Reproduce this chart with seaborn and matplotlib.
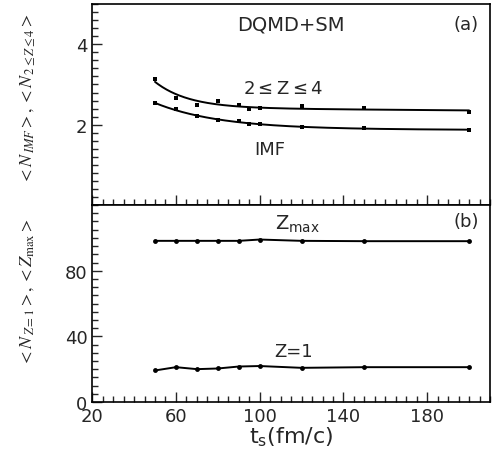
import numpy as np
import pandas as pd
import matplotlib
matplotlib.use("Agg")
import matplotlib.pyplot as plt
from matplotlib.ticker import MultipleLocator, FixedLocator
import seaborn as sns

# ---- data ----
t_a = [50, 60, 70, 80, 90, 95, 100, 120, 150, 200]
n_z24 = [3.13, 2.66, 2.50, 2.59, 2.50, 2.39, 2.41, 2.46, 2.41, 2.31]
n_imf = [2.53, 2.39, 2.21, 2.11, 2.10, 2.02, 2.01, 1.93, 1.92, 1.87]

t_b = [50, 60, 70, 80, 90, 100, 120, 150, 200]
z_max = [98.2, 98.2, 98.2, 98.2, 98.2, 99.0, 98.2, 98.0, 98.0]
n_z1 = [19.2, 21.2, 20.0, 20.4, 21.6, 21.9, 20.8, 21.2, 21.2]

x_ticks = [20, 60, 100, 140, 180]


def smooth_fit(x, y, tau_min=4):
    x = np.asarray(x, float)
    y = np.asarray(y, float)
    best = None
    for tau in np.linspace(tau_min, 120, 300):
        A = np.column_stack([np.ones_like(x), x, np.exp(-(x - x.min()) / tau)])
        coef, *_ = np.linalg.lstsq(A, y, rcond=None)
        r = np.sum((A @ coef - y) ** 2)
        if best is None or r < best[0]:
            best = (r, tau, coef)
    _, tau, coef = best
    xf = np.linspace(x.min(), x.max(), 300)
    yf = coef[0] + coef[1] * xf + coef[2] * np.exp(-(xf - x.min()) / tau)
    return xf, yf


sns.set_style("ticks")
plt.rcParams["font.family"] = ["DejaVu Sans"]

fig = plt.figure(figsize=(4.93, 4.60), dpi=100)
ax1 = fig.add_axes([0.187, 0.552, 0.807, 0.437])
ax2 = fig.add_axes([0.187, 0.124, 0.807, 0.428])

# top panel
df_a = pd.DataFrame({"t": t_a, "z24": n_z24, "imf": n_imf})
for col in ["z24", "imf"]:
    sns.scatterplot(data=df_a, x="t", y=col, ax=ax1, color="black", marker="s",
                    s=9, linewidth=0, zorder=3)
    xf, yf = smooth_fit(df_a["t"], df_a[col], tau_min=16)
    sns.lineplot(x=xf, y=yf, ax=ax1, color="black", linewidth=1.4, zorder=2)

# bottom panel
df_b = pd.DataFrame({"t": t_b, "zmax": z_max, "z1": n_z1})
for col in ["zmax", "z1"]:
    sns.lineplot(data=df_b, x="t", y=col, ax=ax2, color="black", linewidth=1.4,
                 marker="o", markersize=3.5, markeredgewidth=0, zorder=3)

for ax in (ax1, ax2):
    ax.set_xlim(20, 210)
    ax.xaxis.set_major_locator(FixedLocator(x_ticks))
    ax.xaxis.set_minor_locator(MultipleLocator(5))
    ax.tick_params(which="both", direction="in", top=False, right=False, width=1.0)
    ax.tick_params(which="major", length=7)
    ax.tick_params(which="minor", length=4)
    ax.tick_params(labelsize=13)
    for sp in ax.spines.values():
        sp.set_linewidth(1.2)
        sp.set_color("black")
    ax.set_xlabel("")
    ax.set_ylabel("")

ax1.set_ylim(0, 5)
ax1.yaxis.set_major_locator(FixedLocator([2, 4]))
ax1.yaxis.set_minor_locator(MultipleLocator(0.2))
ax1.tick_params(axis="x", labelbottom=False)

ax2.set_ylim(0, 120)
ax2.yaxis.set_major_locator(FixedLocator([0, 40, 80]))
ax2.yaxis.set_minor_locator(MultipleLocator(5))

# annotations
ax1.text(0.5, 0.9, "DQMD+SM", transform=ax1.transAxes, ha="center", va="center", fontsize=14)
ax1.text(0.94, 0.9, "(a)", transform=ax1.transAxes, ha="center", va="center", fontsize=13)
ax1.text(111, 2.9, r"2$\leq$Z$\leq$4", ha="center", va="center", fontsize=13)
ax1.text(105, 1.4, "IMF", ha="center", va="center", fontsize=13)

ax2.text(0.94, 0.92, "(b)", transform=ax2.transAxes, ha="center", va="center", fontsize=13)
ax2.text(118, 109, r"Z$_{\rm max}$", ha="center", va="center", fontsize=14)
ax2.text(116, 31, "Z=1", ha="center", va="center", fontsize=13)

ax2.set_xlabel(r"t$_{\rm s}$(fm/c)", fontsize=16, labelpad=0)

fig.text(0.055, 0.785, r"$<N_{\,IMF}>, <N_{\,2\leq Z\leq 4}>$", rotation=90,
         ha="center", va="center", fontsize=13, math_fontfamily="stix")
fig.text(0.055, 0.365, r"$<N_{\,Z=1}>, <Z_{\rm max}>$", rotation=90,
         ha="center", va="center", fontsize=13, math_fontfamily="stix")

fig.savefig("out.png", dpi=100)
